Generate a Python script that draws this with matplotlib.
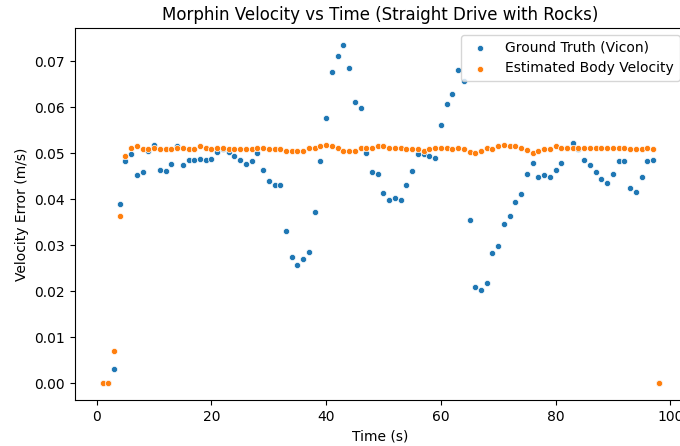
import numpy as np
import matplotlib.pyplot as plt

# time stamps (s)
t = np.arange(1, 99)

# ground truth velocity error from vicon (m/s)
vicon = [
    0.0, 0.0, 0.003, 0.039, 0.0482, 0.0497, 0.0452, 0.0458, 0.0505, 0.0518,
    0.0464, 0.0461, 0.0476, 0.0515, 0.0473, 0.0485, 0.0485, 0.0488, 0.0485, 0.0488,
    0.0503, 0.0508, 0.0503, 0.0494, 0.0485, 0.0476, 0.0482, 0.0500, 0.0464, 0.0440,
    0.0431, 0.0431, 0.0330, 0.0274, 0.0256, 0.0270, 0.0286, 0.0372, 0.0482, 0.0577,
    0.0677, 0.0711, 0.0735, 0.0684, 0.0612, 0.0597, 0.0500, 0.0458, 0.0455, 0.0414,
    0.0398, 0.0402, 0.0398, 0.0431, 0.0461, 0.0497, 0.0497, 0.0494, 0.0490, 0.0562,
    0.0607, 0.0628, 0.0681, 0.0657, 0.0354, 0.0208, 0.0202, 0.0217, 0.0283, 0.0297,
    0.0345, 0.0363, 0.0393, 0.0411, 0.0455, 0.0479, 0.0449, 0.0452, 0.0449, 0.0464,
    0.0479, 0.0510, 0.0521, 0.0509, 0.0485, 0.0473, 0.0458, 0.0443, 0.0434, 0.0455,
    0.0482, 0.0482, 0.0425, 0.0416, 0.0449, 0.0482, 0.0485, 0.0,
]

# estimated body velocity (m/s)
estimated = [
    0.0, 0.0, 0.007, 0.0363, 0.0494, 0.0512, 0.0515, 0.0509, 0.0509, 0.0512,
    0.0509, 0.0509, 0.0509, 0.0512, 0.0512, 0.0509, 0.0509, 0.0515, 0.0512, 0.0509,
    0.0512, 0.0512, 0.0509, 0.0509, 0.0509, 0.0509, 0.0509, 0.0512, 0.0512, 0.0509,
    0.0509, 0.0509, 0.0505, 0.0505, 0.0505, 0.0505, 0.0512, 0.0512, 0.0515, 0.0518,
    0.0515, 0.0512, 0.0505, 0.0505, 0.0505, 0.0512, 0.0512, 0.0512, 0.0515, 0.0515,
    0.0512, 0.0512, 0.0512, 0.0509, 0.0509, 0.0509, 0.0505, 0.0509, 0.0512, 0.0512,
    0.0512, 0.0509, 0.0512, 0.0509, 0.0503, 0.0500, 0.0505, 0.0512, 0.0509, 0.0515,
    0.0518, 0.0515, 0.0515, 0.0512, 0.0507, 0.0500, 0.0505, 0.0509, 0.0509, 0.0515,
    0.0512, 0.0512, 0.0512, 0.0512, 0.0512, 0.0512, 0.0512, 0.0512, 0.0512, 0.0512,
    0.0512, 0.0512, 0.0509, 0.0509, 0.0509, 0.0512, 0.0509, 0.0,
]

fig = plt.figure(figsize=(6.8, 4.46), dpi=100)
# axes runs a bit past the right edge, like the cropped original
ax = fig.add_axes([0.1099, 0.1031, 0.8997, 0.834])

ax.scatter(t, vicon, s=20, color='tab:blue', edgecolors='white', linewidths=0.5,
           label='Ground Truth (Vicon)')
ax.scatter(t, estimated, s=20, color='tab:orange', edgecolors='white', linewidths=0.5,
           label='Estimated Body Velocity')

ax.set_title("Morphin Velocity vs Time (Straight Drive with Rocks)")
ax.set_xlabel("Time (s)")
ax.set_ylabel("Velocity Error (m/s)")
ax.legend(loc='upper right')

fig.savefig("out.png", dpi=100)
